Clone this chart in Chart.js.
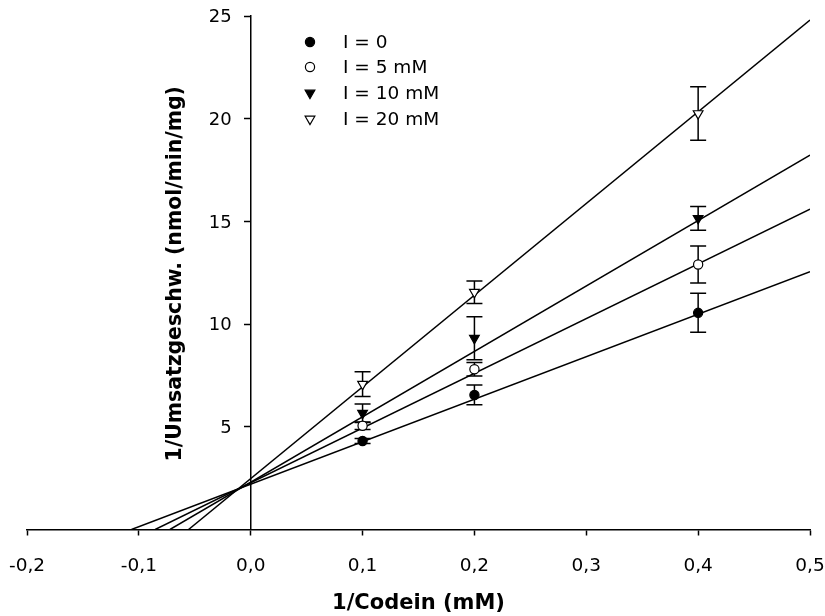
<!DOCTYPE html>
<html>
<head>
<meta charset="utf-8">
<script src="https://cdn.jsdelivr.net/npm/chart.js@4/dist/chart.umd.min.js"></script>
<style>
  html, body { margin: 0; padding: 0; background: #ffffff; }
  canvas { display: block; }
</style>
</head>
<body>
<canvas id="lb" width="825" height="616"></canvas>
<script>
// Lineweaver-Burk data: 1/[Codein] (1/mM) vs 1/v, mean ± error
const codeinInv = [0.1, 0.2, 0.4];

const rateI0  = [4.31, 6.55, 10.55];
const errI0   = [0.12, 0.48, 0.95];
const rateI5  = [5.05, 7.80, 12.90];
const errI5   = [0.18, 0.33, 0.90];
const rateI10 = [5.66, 9.31, 15.15];
const errI10  = [0.45, 1.05, 0.58];
const rateI20 = [7.08, 11.55, 20.25];
const errI20  = [0.60, 0.55, 1.30];

// Linear fits (slope, intercept) for each inhibitor level
const fitSlope     = [20.69, 26.65, 31.86, 44.64];
const fitIntercept = [2.205, 2.276, 2.30, 2.48];

const seriesLabels = ['I = 0', 'I = 5 mM', 'I = 10 mM', 'I = 20 mM'];
const xTicks = [-0.2, -0.1, 0.0, 0.1, 0.2, 0.3, 0.4, 0.5];
const yTicks = [5, 10, 15, 20, 25];

const xTitle = '1/Codein (mM)';
const yTitle = '1/Umsatzgeschw. (nmol/min/mg)';

const xMax = 0.5;
const rates = [rateI0, rateI5, rateI10, rateI20];
const errs  = [errI0, errI5, errI10, errI20];

const FONT = '"DejaVu Sans", sans-serif';

// marker look per series: filled circle, open circle, filled triangle down, open triangle down
const markers = [
  { style: 'circle',   radius: 4.6, fill: '#000000', rotation: 0 },
  { style: 'circle',   radius: 4.6, fill: '#ffffff', rotation: 0 },
  { style: 'triangle', radius: 5.6, fill: '#000000', rotation: 180 },
  { style: 'triangle', radius: 5.6, fill: '#ffffff', rotation: 180 }
];

const pointSets = rates.map((r, i) => ({
  type: 'scatter',
  label: seriesLabels[i],
  data: codeinInv.map((x, j) => ({ x: x, y: r[j] })),
  pointStyle: markers[i].style,
  pointRotation: markers[i].rotation,
  pointRadius: markers[i].radius,
  pointBackgroundColor: markers[i].fill,
  pointBorderColor: '#000000',
  pointBorderWidth: 1.2,
  showLine: false
}));

// Fit lines run from the x-intercept to the right end of the axis
const fitSets = fitSlope.map((m, i) => {
  const b = fitIntercept[i];
  const x0 = -b / m;
  return {
    type: 'line',
    label: 'fit ' + seriesLabels[i],
    data: [{ x: x0, y: 0 }, { x: xMax, y: m * xMax + b }],
    borderColor: '#000000',
    borderWidth: 1.5,
    pointRadius: 0,
    fill: false,
    tension: 0
  };
});

function drawMarker(ctx, mk, x, y) {
  ctx.save();
  ctx.fillStyle = mk.fill;
  ctx.strokeStyle = '#000000';
  ctx.lineWidth = 1.2;
  ctx.beginPath();
  if (mk.style === 'circle') {
    ctx.arc(x, y, mk.radius, 0, Math.PI * 2);
  } else {
    let rad = mk.rotation * Math.PI / 180;
    const r = mk.radius;
    ctx.moveTo(x + Math.sin(rad) * r, y - Math.cos(rad) * r);
    rad += 2 * Math.PI / 3;
    ctx.lineTo(x + Math.sin(rad) * r, y - Math.cos(rad) * r);
    rad += 2 * Math.PI / 3;
    ctx.lineTo(x + Math.sin(rad) * r, y - Math.cos(rad) * r);
    ctx.closePath();
  }
  ctx.fill();
  ctx.stroke();
  ctx.restore();
}

const errorBars = {
  id: 'errorBars',
  beforeDatasetsDraw(chart) {
    const ctx = chart.ctx;
    const xs = chart.scales.x, ys = chart.scales.y;
    ctx.save();
    ctx.strokeStyle = '#000000';
    ctx.lineWidth = 1.5;
    rates.forEach((r, i) => {
      codeinInv.forEach((xv, j) => {
        const px = xs.getPixelForValue(xv);
        const top = ys.getPixelForValue(r[j] + errs[i][j]);
        const bot = ys.getPixelForValue(r[j] - errs[i][j]);
        ctx.beginPath();
        ctx.moveTo(px, top); ctx.lineTo(px, bot);
        ctx.moveTo(px - 8, top); ctx.lineTo(px + 8, top);
        ctx.moveTo(px - 8, bot); ctx.lineTo(px + 8, bot);
        ctx.stroke();
      });
    });
    ctx.restore();
  }
};

const annotations = {
  id: 'annotations',
  afterDraw(chart) {
    const ctx = chart.ctx;
    const area = chart.chartArea;
    const xs = chart.scales.x, ys = chart.scales.y;
    ctx.save();
    ctx.fillStyle = '#000000';

    // y tick labels, left of the axis that sits at x = 0
    const axisX = xs.getPixelForValue(0);
    ctx.font = '18px ' + FONT;
    ctx.textAlign = 'right';
    ctx.textBaseline = 'middle';
    yTicks.forEach(v => {
      ctx.fillText(String(v), axisX - 19, ys.getPixelForValue(v) + 1.5);
    });

    // legend block inside the plot
    const lx = 310;
    const rowY = [42, 67, 93, 119];
    ctx.font = '18.5px ' + FONT;
    ctx.textAlign = 'left';
    seriesLabels.forEach((t, i) => {
      drawMarker(ctx, markers[i], lx, rowY[i]);
      ctx.fillText(t, lx + 33, rowY[i] + 1);
    });

    // y-axis title
    ctx.font = 'bold 20.4px ' + FONT;
    ctx.textAlign = 'center';
    ctx.textBaseline = 'middle';
    ctx.translate(176, (area.top + area.bottom) / 2 + 1);
    ctx.rotate(-Math.PI / 2);
    ctx.fillText(yTitle, 0, 0);
    ctx.restore();
  }
};

function fmtComma(v) {
  if (Math.abs(v) < 1e-9) v = 0;
  return v.toFixed(1).replace('.', ',');
}

new Chart(document.getElementById('lb'), {
  data: { datasets: pointSets.concat(fitSets) },
  options: {
    responsive: false,
    animation: false,
    events: [],
    layout: { padding: { left: 27, right: 15, top: 16, bottom: 0 } },
    plugins: {
      legend: { display: false },
      tooltip: { enabled: false },
      title: { display: false }
    },
    scales: {
      x: {
        type: 'linear',
        position: 'bottom',
        min: xTicks[0],
        max: xTicks[xTicks.length - 1],
        afterBuildTicks(scale) { scale.ticks = xTicks.map(v => ({ value: v })); },
        afterFit(scale) {
          scale.height = 86.5;
          scale.paddingLeft = 0;
          scale.paddingRight = 0;
        },
        ticks: {
          color: '#000000',
          font: { family: FONT, size: 18.5 },
          padding: 20,
          maxRotation: 0,
          callback: (v) => fmtComma(v)
        },
        grid: {
          drawOnChartArea: false,
          drawTicks: true,
          tickLength: 6,
          tickWidth: 1.5,
          tickColor: '#000000'
        },
        border: { display: true, color: '#000000', width: 1.5 },
        title: {
          display: true,
          text: xTitle,
          color: '#000000',
          font: { family: FONT, size: 21, weight: 'bold' },
          padding: { top: 0, bottom: 0 }
        }
      },
      y: {
        type: 'linear',
        position: { x: 0 },
        min: 0,
        max: 25,
        afterBuildTicks(scale) { scale.ticks = [0].concat(yTicks).map(v => ({ value: v })); },
        afterFit(scale) {
          scale.paddingTop = 0;
          scale.paddingBottom = 0;
        },
        ticks: { display: false },
        grid: {
          drawOnChartArea: false,
          drawTicks: true,
          tickLength: 6,
          tickWidth: 1.5,
          tickColor: (c) => (c.tick && c.tick.value === 0 ? 'rgba(0,0,0,0)' : '#000000')
        },
        border: { display: true, color: '#000000', width: 1.5 }
      }
    }
  },
  plugins: [errorBars, annotations]
});
</script>
</body>
</html>
